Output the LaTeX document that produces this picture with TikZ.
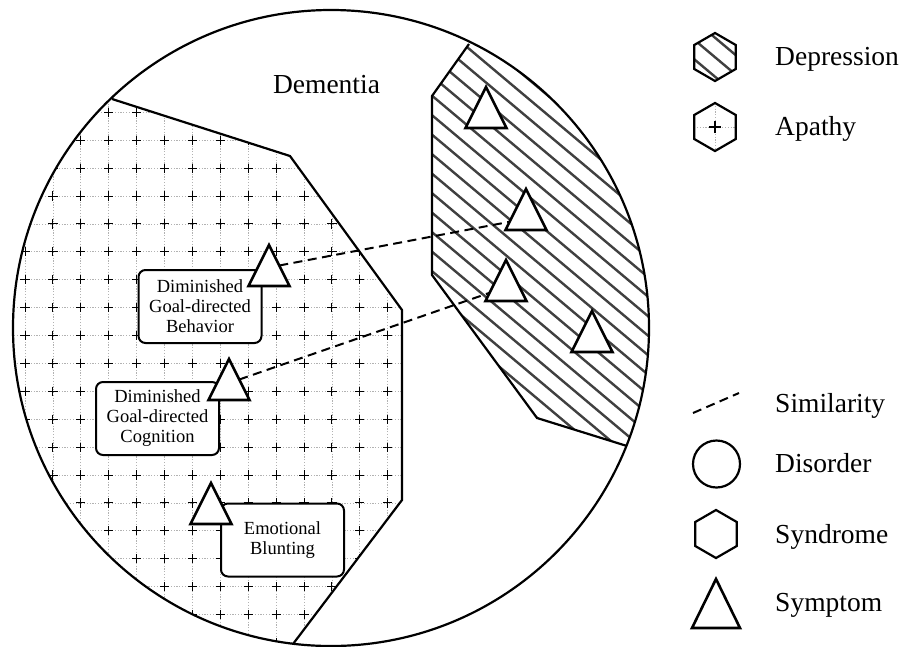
\documentclass[tikz,border=0pt]{standalone}
\usepackage{fontspec}
\setmainfont{Liberation Serif}
\usetikzlibrary{shapes,calc}
\newcommand{\gstep}{27.9}
\newcommand{\hstep}{19.5}
\newcommand{\crossl}{4.6}
\newcommand{\hslope}{0.84}

\begin{document}
\begin{tikzpicture}[x=1pt,y=-1pt,
    outline/.style={line width=2.2pt},
    hatchline/.style={line width=2.4pt, black!75},
    gridline/.style={black!30, dash pattern=on 1.2pt off 1.6pt, line width=0.8pt},
    crossline/.style={line width=1pt},
    simline/.style={line width=2pt, dash pattern=on 9pt off 5.5pt},
    symptom/.style={isosceles triangle, isosceles triangle stretches, shape border rotate=90,
        minimum width=41pt, minimum height=41pt, inner sep=0pt, outer sep=0pt,
        draw, fill=white, line width=2.6pt, anchor=apex},
    labelbox/.style={rounded corners=7pt, draw, fill=white, line width=2pt, align=center,
        minimum width=123pt, minimum height=73pt, inner sep=0pt,
        font=\fontsize{18.5}{20}\selectfont},
    legendtext/.style={anchor=base west, inner sep=0pt, font=\fontsize{27.5}{30}\selectfont},
    syndrome/.style={regular polygon, regular polygon sides=6, shape border rotate=30,
        minimum size=48pt, inner sep=0pt, draw, line width=2.2pt},
  ]
    \useasboundingbox (0,0) rectangle (901,646);
    %\draw[help lines,step=50] (0,0) grid (901,646);

    % apathy: grid with crosses
    \begin{scope}
        \clip (331,328) circle[radius=318pt];
        \clip (0,63) -- (112,99) -- (290,156) -- (402,310) -- (402,500) -- (293,644) -- (270,675) -- (0,675) -- cycle;
        \foreach \i in {0,...,14} {
            \pgfmathsetmacro{\gx}{25+\gstep*\i}
            \draw[gridline] (\gx,0) -- (\gx,660);
        }
        \foreach \j in {-1,...,19} {
            \pgfmathsetmacro{\gy}{112.3+\gstep*\j}
            \draw[gridline] (0,\gy) -- (420,\gy);
        }
        \foreach \i in {0,...,14} {
            \foreach \j in {-1,...,19} {
                \pgfmathsetmacro{\gx}{25+\gstep*\i}
                \pgfmathsetmacro{\gy}{112.3+\gstep*\j}
                \draw[crossline] (\gx-\crossl,\gy) -- (\gx+\crossl,\gy)
                                 (\gx,\gy-\crossl) -- (\gx,\gy+\crossl);
            }
        }
    \end{scope}

    % depression: hatching
    \begin{scope}
        \clip (331,328) circle[radius=318pt];
        \clip (500,0) -- (469,44) -- (432,96) -- (432,275) -- (537,418) -- (627,446) -- (720,475) -- (720,0) -- cycle;
        \foreach \k in {0,...,37} {
            \pgfmathsetmacro{\hy}{-260+\hstep*\k}
            \draw[hatchline] (380,\hy) -- (700,\hy+320*\hslope);
        }
    \end{scope}

    \draw[outline] (112,99) -- (290,156) -- (402,310) -- (402,500) -- (293,644);
    \draw[outline] (469,44) -- (432,96) -- (432,275) -- (537,418) -- (627,446);
    \draw[outline] (331,328) circle[radius=318pt];

    \node[anchor=base, inner sep=0pt, font=\fontsize{27.5}{30}\selectfont] (dementia) at (326.5,93) {Dementia};

    \node[labelbox] (behavior) at (200,306.5) {Diminished\\Goal-directed\\Behavior};
    \node[labelbox] (cognition) at (157.5,418.5) {Diminished\\Goal-directed\\Cognition};
    \node[labelbox] (blunting) at (282.5,540) {Emotional\\Blunting};

    \node[symptom] (tb) at (269,245) {};
    \node[symptom] (tc) at (229,359) {};
    \node[symptom] (te) at (211,483) {};
    \node[symptom] (td1) at (486,87) {};
    \node[symptom] (td2) at (526,189) {};
    \node[symptom] (td3) at (506,260) {};
    \node[symptom] (td4) at (592,311) {};

    \draw[simline] (tb.right side) -- ($(td2.left corner)!0.2!(td2.apex)$);
    \draw[simline] (tc.right side) -- ($(td3.left corner)!0.2!(td3.apex)$);

    % legend
    \node[syndrome, path picture={
            \foreach \k in {-1,0,1}
                \draw[hatchline] ([shift={(-30,\k*\hstep-25)}]path picture bounding box.center) -- ++(60,60*\hslope);
        }] (deplegend) at (715,57) {};
    \node[legendtext] (deptext) at (775,65) {Depression};
    \node[syndrome, path picture={
            \draw[gridline] (path picture bounding box.west) -- (path picture bounding box.east)
                            (path picture bounding box.north) -- (path picture bounding box.south);
            \draw[crossline, line width=1.2pt] ([xshift=-6pt]path picture bounding box.center) -- ([xshift=6pt]path picture bounding box.center)
                             ([yshift=-6pt]path picture bounding box.center) -- ([yshift=6pt]path picture bounding box.center);
        }] (apalegend) at (715,127) {};
    \node[legendtext] (apatext) at (775,135) {Apathy};

    \coordinate (sima) at (693,413);
    \coordinate (simb) at (739,393);
    \draw[simline] (sima) -- (simb);
    \node[legendtext] (simtext) at (775,412) {Similarity};
    \node[draw, circle, minimum size=47pt, inner sep=0pt, line width=2.2pt] (disorder) at (716.5,464) {};
    \node[legendtext] (distext) at (775,472) {Disorder};
    \node[syndrome] (synd) at (716,534) {};
    \node[legendtext] (syntext) at (775,543) {Syndrome};
    \node[symptom, minimum width=48pt, minimum height=49pt] (sympt) at (716,579) {};
    \node[legendtext] (symtext) at (775,611) {Symptom};
\end{tikzpicture}
\end{document}
